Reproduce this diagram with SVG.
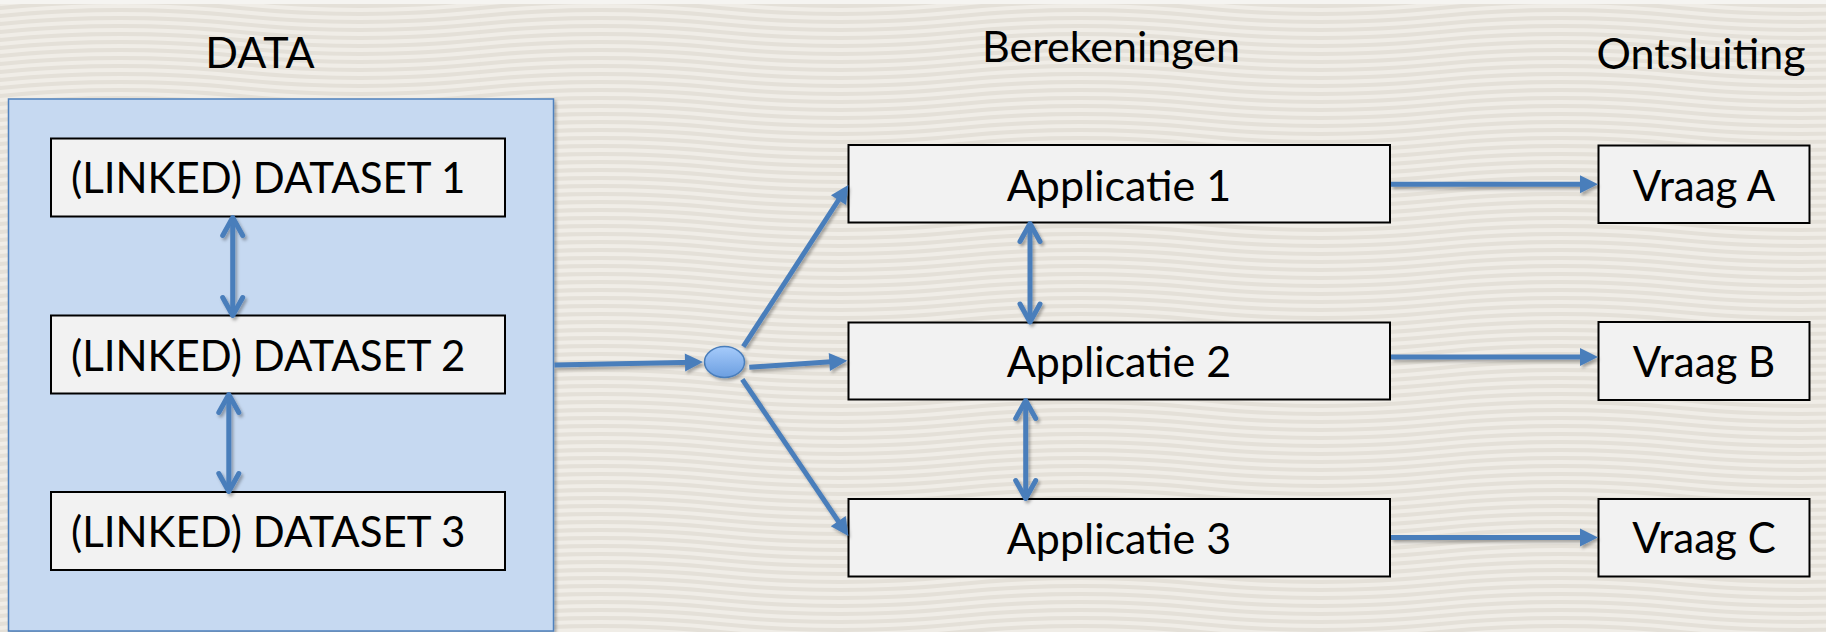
<svg xmlns="http://www.w3.org/2000/svg" width="1826" height="632" viewBox="0 0 1826 632">
  <defs>
    <style>
      .title { font-family: Lato, "Open Sans", sans-serif; font-size: 43px; fill: #000; }
      .label { font-family: Lato, "Open Sans", sans-serif; font-size: 42px; fill: #000; }
      .app { font-size: 43px; }
      .box { fill: #F2F2F2; stroke: #000; stroke-width: 2; }
      .link { fill: none; stroke: #4A7EBB; stroke-width: 5; }
      .arrow { marker-end: url(#tri); }
      .both { marker-start: url(#open); marker-end: url(#open); }
    </style>
    <!-- soft wavy paper texture -->
    <pattern id="waves" width="480" height="8" patternUnits="userSpaceOnUse">
      <rect width="480" height="8" fill="#E4E0D8"/>
      <g fill="none" stroke="#F0EDE7" stroke-width="4">
        <path d="M0,-12 Q120,-24 240,-12 T480,-12"/>
        <path d="M0,-4 Q120,-16 240,-4 T480,-4"/>
        <path d="M0,4 Q120,-8 240,4 T480,4"/>
        <path d="M0,12 Q120,0 240,12 T480,12"/>
        <path d="M0,20 Q120,8 240,20 T480,20"/>
      </g>
    </pattern>
    <linearGradient id="hub" x1="0" y1="0" x2="0" y2="1">
      <stop offset="0" stop-color="#A6CBFB"/>
      <stop offset="1" stop-color="#6B9EE0"/>
    </linearGradient>
    <filter id="shadow" x="-10%" y="-10%" width="120%" height="130%">
      <feDropShadow dx="2" dy="2.5" stdDeviation="1.5" flood-color="#000" flood-opacity="0.3"/>
    </filter>
    <!-- filled triangle head; line ends 9px short of the tip -->
    <marker id="tri" markerUnits="userSpaceOnUse" markerWidth="18" markerHeight="18" viewBox="0 0 18 18" refX="9" refY="9" orient="auto" overflow="visible">
      <path d="M0,0 L18,9 L0,18 z" fill="#4A7EBB"/>
    </marker>
    <!-- open V head for two-way links -->
    <marker id="open" markerUnits="userSpaceOnUse" markerWidth="22" markerHeight="22" viewBox="0 0 22 22" refX="18.5" refY="10.5" orient="auto-start-reverse" overflow="visible">
      <path d="M1,0.5 L19,10.5 L1,20.5" fill="none" stroke="#4A7EBB" stroke-width="5" stroke-linecap="round" stroke-linejoin="round"/>
    </marker>
  </defs>

  <!-- background -->
  <rect width="1826" height="632" fill="url(#waves)"/>
  <rect width="1826" height="4" fill="#F5F4F1"/>

  <!-- column headings -->
  <text class="title" x="260" y="68" text-anchor="middle">DATA</text>
  <text class="title" x="1111" y="62" text-anchor="middle">Berekeningen</text>
  <text class="title" x="1701" y="69" text-anchor="middle" font-size="40.5">Ontsluiting</text>

  <!-- data container -->
  <g id="data">
    <rect x="8.5" y="99" width="545" height="532" fill="#C6D9F1" stroke="#4F81BD" stroke-width="1.5" filter="url(#shadow)"/>
  </g>

  <g id="dataset1">
    <rect class="box" x="51" y="138.5" width="454" height="78"/>
    <text class="label" x="71" y="193">(LINKED) DATASET 1</text>
  </g>
  <g id="dataset2">
    <rect class="box" x="51" y="315.5" width="454" height="78"/>
    <text class="label" x="71" y="371">(LINKED) DATASET 2</text>
  </g>
  <g id="dataset3">
    <rect class="box" x="51" y="492" width="454" height="78"/>
    <text class="label" x="71" y="547">(LINKED) DATASET 3</text>
  </g>

  <g id="hub-node">
    <ellipse cx="724.5" cy="362" rx="20" ry="15.5" fill="url(#hub)" stroke="#4A7EBB" stroke-width="1.5" filter="url(#shadow)"/>
  </g>

  <g id="app1">
    <rect class="box" x="848.5" y="145" width="541.5" height="77.5"/>
    <text class="label app" x="1119" y="201" text-anchor="middle">Applicatie 1</text>
  </g>
  <g id="app2">
    <rect class="box" x="848.5" y="322.5" width="541.5" height="77"/>
    <text class="label app" x="1119" y="377" text-anchor="middle">Applicatie 2</text>
  </g>
  <g id="app3">
    <rect class="box" x="848.5" y="499" width="541.5" height="77.5"/>
    <text class="label app" x="1119" y="554" text-anchor="middle">Applicatie 3</text>
  </g>

  <g id="vraagA">
    <rect class="box" x="1598.5" y="145.5" width="211" height="77.5"/>
    <text class="label" x="1704" y="200.5" text-anchor="middle">Vraag A</text>
  </g>
  <g id="vraagB">
    <rect class="box" x="1598.5" y="322" width="211" height="78"/>
    <text class="label" x="1704" y="377" text-anchor="middle">Vraag B</text>
  </g>
  <g id="vraagC">
    <rect class="box" x="1598.5" y="499" width="211" height="77.5"/>
    <text class="label" x="1704" y="553" text-anchor="middle">Vraag C</text>
  </g>

  <!-- connectors -->
  <g id="connectors" filter="url(#shadow)">
    <line class="link both" x1="232.7" y1="218" x2="232.7" y2="315"/>
    <line class="link both" x1="228.8" y1="395" x2="228.8" y2="491"/>
    <line class="link arrow" x1="554.5" y1="365" x2="694" y2="362.2"/>
    <line class="link arrow" x1="743.3" y1="346.7" x2="843.4" y2="192.5"/>
    <line class="link arrow" x1="749.3" y1="367.3" x2="838.3" y2="361.3"/>
    <line class="link arrow" x1="742.3" y1="379.3" x2="843.3" y2="528.6"/>
    <line class="link both" x1="1030" y1="224" x2="1030" y2="321.5"/>
    <line class="link both" x1="1025.7" y1="401" x2="1025.7" y2="498"/>
    <line class="link arrow" x1="1391" y1="184.3" x2="1589" y2="184.3"/>
    <line class="link arrow" x1="1391" y1="357" x2="1589" y2="357"/>
    <line class="link arrow" x1="1391" y1="537.5" x2="1589" y2="537.5"/>
  </g>
</svg>
